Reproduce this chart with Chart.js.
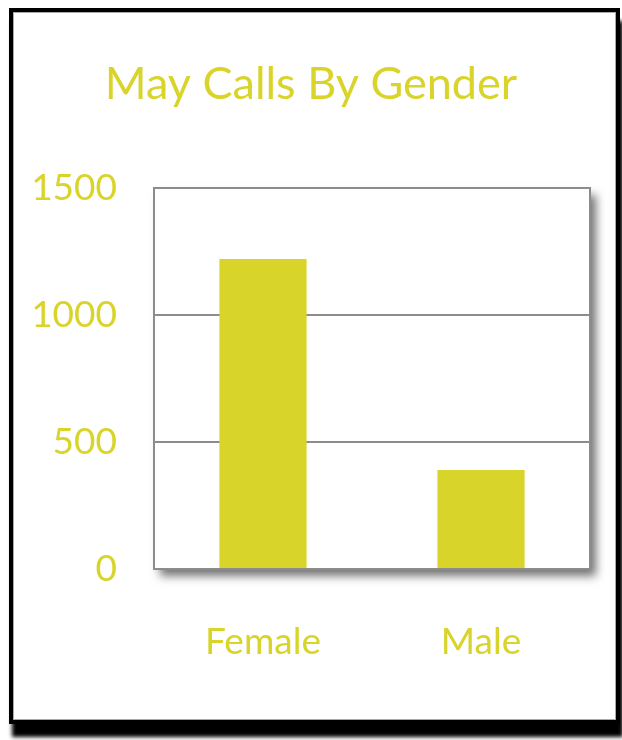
<!DOCTYPE html>
<html lang="en">
  <head>
    <meta charset="UTF-8" />
    <script src="https://cdn.jsdelivr.net/npm/chart.js@4/dist/chart.umd.min.js"></script>
    <title>May Calls By Gender</title>
    <style>
      body { margin: 0; background: #fff; }
      #frame {
        position: absolute; left: 9px; top: 8px; width: 603px; height: 708px;
        border: 4px solid #000;
        box-shadow: inset 0 0 0 1px #aaa, 3px 13px 4px #000;
        background: #fff;
      }
      #wrap { position: absolute; left: 0; top: 0; width: 622px; height: 740px; }
    </style>
  </head>
  <body>
    <div id="frame"></div>
    <div id="wrap"><canvas id="chart" width="622" height="740"></canvas></div>
    <script>
      let genders = ["Female", "Male"];
      let calls = [1220, 390];
      let yTicks = [0, 500, 1000, 1500];

      let yellow = "#d9d42a";
      let font = "Lato, 'Open Sans', sans-serif";

      // white plot box with drop shadow and grey outline
      let plotBox = {
        id: "plotBox",
        beforeDraw(chart) {
          const { ctx, chartArea: a } = chart;
          ctx.save();
          ctx.shadowColor = "rgba(0,0,0,0.55)";
          ctx.shadowBlur = 9;
          ctx.shadowOffsetX = 6;
          ctx.shadowOffsetY = 7;
          ctx.fillStyle = "#fff";
          ctx.fillRect(a.left, a.top, a.right - a.left, a.bottom - a.top);
          ctx.restore();
          ctx.save();
          ctx.strokeStyle = "#8c8c8c";
          ctx.lineWidth = 2;
          ctx.strokeRect(a.left, a.top, a.right - a.left, a.bottom - a.top);
          ctx.restore();
        },
      };

      new Chart(document.getElementById("chart"), {
        type: "bar",
        data: {
          labels: genders,
          datasets: [
            {
              data: calls,
              backgroundColor: yellow,
              categoryPercentage: 1,
              barPercentage: 0.4,
            },
          ],
        },
        options: {
          responsive: false,
          animation: false,
          layout: { padding: { left: 32, right: 32, top: 0, bottom: 0 } },
          plugins: {
            legend: { display: false },
            tooltip: { enabled: false },
            title: {
              display: true,
              text: "May Calls By Gender",
              color: yellow,
              font: { family: font, size: 45, weight: "normal", lineHeight: 1.2 },
              padding: { top: 57, bottom: 77 },
            },
          },
          scales: {
            x: {
              grid: { display: false },
              border: { display: true, color: "#8c8c8c", width: 2 },
              ticks: {
                color: yellow,
                padding: 43,
                font: { family: font, size: 37 },
              },
              afterFit(s) { s.height = 171; },
            },
            y: {
              min: 0,
              max: 1500,
              afterBuildTicks(s) { s.ticks = yTicks.map((v) => ({ value: v })); },
              grid: { color: "#8c8c8c", lineWidth: 2, drawTicks: false },
              border: { display: true, color: "#8c8c8c", width: 2 },
              ticks: {
                color: yellow,
                padding: 37,
                font: { family: font, size: 37 },
                callback: (v) => String(v),
              },
              afterFit(s) { s.width = 122; },
            },
          },
        },
        plugins: [plotBox],
      });
    </script>
  </body>
</html>
